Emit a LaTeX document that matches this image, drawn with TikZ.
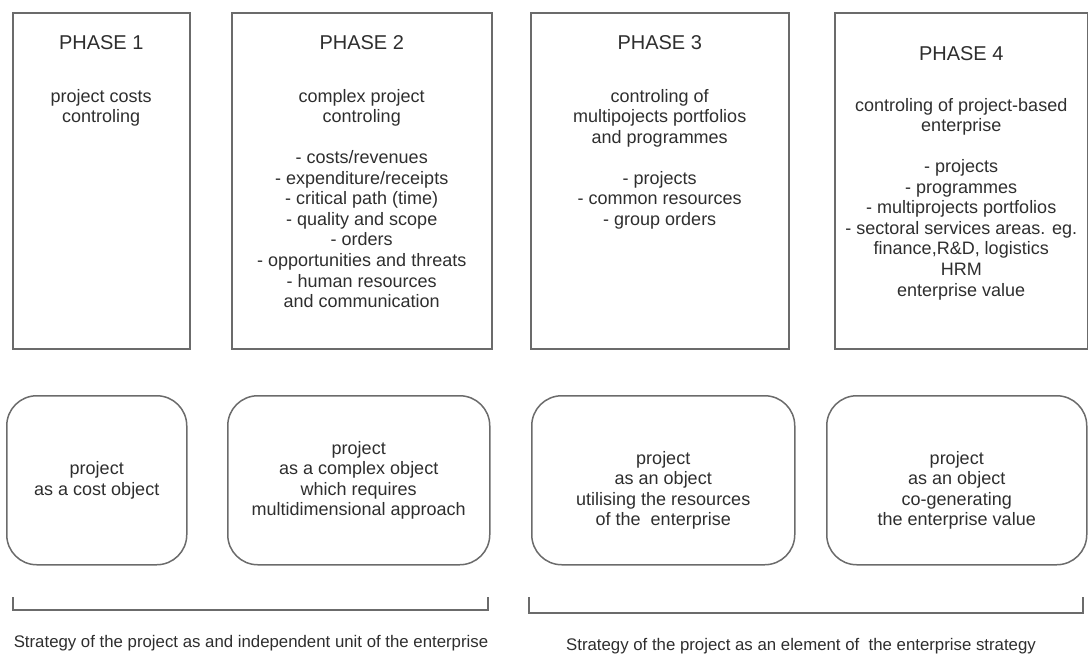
\documentclass[tikz,border=0pt]{standalone}
\usepackage{fontspec}
\setmainfont{Liberation Sans}
\usetikzlibrary{positioning}
\definecolor{linegray}{rgb}{0.42,0.42,0.42}
\definecolor{textgray}{rgb}{0.18,0.18,0.18}

\tikzset{
  phasebox/.style={draw=linegray,line width=1.5pt,inner sep=0pt,anchor=north west},
  objbox/.style={draw=linegray,line width=1.5pt,rounded corners=30pt,inner sep=0pt,anchor=north west},
  phasetitle/.style={font=\fontsize{20}{24}\selectfont,text=textgray,inner sep=0pt},
  boxtext/.style={font=\fontsize{18}{20.6}\selectfont,align=center,text=textgray,inner sep=0pt},
  stratline/.style={draw=linegray,line width=1.5pt},
  strattext/.style={font=\fontsize{16.8}{20}\selectfont,text=textgray,inner sep=0pt}
}

\begin{document}
\begin{tikzpicture}[x=1pt,y=-1pt]
\useasboundingbox (0,0) rectangle (1088,654);

% phases
\foreach \n/\l/\r in {1/12/189, 2/231/491, 3/530/788, 4/834/1087}
  \node[phasebox, minimum width={(\r-\l)*1pt}, minimum height=336pt] (phase\n) at (\l,12) {};

\node[phasetitle, below=23pt of phase1.north] (title1) {PHASE 1};
\node[phasetitle, below=23pt of phase2.north] (title2) {PHASE 2};
\node[phasetitle, below=23pt of phase3.north] (title3) {PHASE 3};
\node[phasetitle, below=34pt of phase4.north] (title4) {PHASE 4};

\node[boxtext, below=77pt of phase1.north] (desc1) {project costs\\controling};
\node[boxtext, below=77pt of phase2.north] (desc2) {complex project\\controling\\[20pt]
  - costs/revenues\\- expenditure/receipts\\- critical path (time)\\- quality and scope\\
  - orders\\- opportunities and threats\\- human resources\\and communication};
\node[boxtext, below=77pt of phase3.north] (desc3) {controling of\\multipojects portfolios\\and programmes\\[20pt]
  - projects\\- common resources\\- group orders};
\node[boxtext, below=86pt of phase4.north] (desc4) {controling of project-based\\enterprise\\[20pt]
  - projects\\- programmes\\- multiprojects portfolios\\- sectoral services areas. eg.\\
  finance,R\&D, logistics\\HRM\\enterprise value};

% project as an object
\foreach \n/\l/\r in {1/6/186, 2/227/489, 3/531/794, 4/826/1086}
  \node[objbox, minimum width={(\r-\l)*1pt}, minimum height=169pt] (obj\n) at (\l,395) {};

\node[boxtext] (objtext1) at (obj1.center) {project\\as a cost object};
\node[boxtext] (objtext2) at (obj2.center) {project\\as a complex object\\which requires\\multidimensional approach};
\node[boxtext, above=-10pt of obj3.center, anchor=center] (objtext3) {project\\as an object\\utilising the resources\\of the \ enterprise};
\node[boxtext, above=-10pt of obj4.center, anchor=center] (objtext4) {project\\as an object\\co-generating\\the enterprise value};

% strategies
\draw[stratline] (13,597) -- (13,610) -- (488,610) -- (488,597);
\draw[stratline] (529,597) -- (529,613) -- (1083,613) -- (1083,597);
\node[strattext] (strat1) at (251,643) {Strategy of the project as and independent unit of the enterprise};
\node[strattext] (strat2) at (801,646) {Strategy of the project as an element of \ the enterprise strategy};
\end{tikzpicture}
\end{document}
